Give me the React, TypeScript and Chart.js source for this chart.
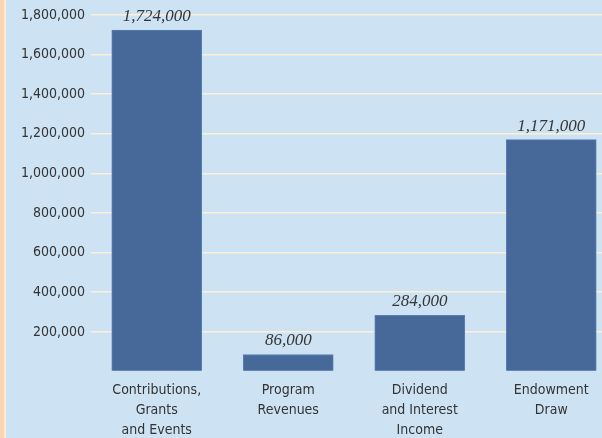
import React, { useEffect, useRef } from "react";
import { Chart, registerables } from "chart.js";

Chart.register(...registerables);

const categories: string[][] = [
  ["Contributions,", "Grants", "and Events"],
  ["Program", "Revenues"],
  ["Dividend", "and Interest", "Income"],
  ["Endowment", "Draw"],
];
const values: number[] = [1724000, 86000, 284000, 1171000];
const yMax = 1800000;
const yStep = 200000;

const fmt = (v: number) => v.toLocaleString("en-US");

const valueLabels = {
  id: "valueLabels",
  afterDatasetsDraw(chart: any) {
    const ctx = chart.ctx;
    const meta = chart.getDatasetMeta(0);
    ctx.save();
    ctx.font = "italic 17px 'Liberation Serif', serif";
    ctx.fillStyle = "#363636";
    ctx.textAlign = "center";
    ctx.textBaseline = "bottom";
    meta.data.forEach((bar: any, i: number) => {
      ctx.fillText(fmt(values[i]), bar.x, bar.y - 5);
    });
    ctx.restore();
  },
};

export default function App() {
  const ref = useRef<HTMLCanvasElement | null>(null);
  useEffect(() => {
    if (!ref.current) return;
    const chart = new Chart(ref.current, {
      type: "bar",
      data: {
        labels: categories,
        datasets: [
          {
            data: values,
            backgroundColor: "#46699a",
            borderColor: "#5b7eb0",
            borderWidth: 1,
            barThickness: 90,
          },
        ],
      },
      options: {
        animation: false,
        responsive: false,
        maintainAspectRatio: false,
        layout: { padding: { top: 15, right: 1, left: 0, bottom: 0 } },
        plugins: {
          legend: { display: false },
          tooltip: { enabled: false },
        },
        scales: {
          x: {
            grid: { display: false },
            border: { display: false },
            ticks: {
              color: "#333",
              font: { family: "'DejaVu Sans Condensed', 'Liberation Sans Narrow', sans-serif", size: 14, lineHeight: 1.42 },
              padding: 1,
              maxRotation: 0,
              autoSkip: false,
            },
            afterFit: (scale: any) => {
              scale.height = 66.5;
            },
          },
          y: {
            min: 0,
            max: yMax,
            border: { display: false },
            grid: {
              drawTicks: false,
              lineWidth: 1.6,
              color: (c: any) => (c.tick && c.tick.value === 0 ? "rgba(0,0,0,0)" : "#fbf0d8"),
            },
            ticks: {
              stepSize: yStep,
              padding: 6,
              color: "#333",
              font: { family: "'DejaVu Sans Condensed', 'Liberation Sans Narrow', sans-serif", size: 14 },
              callback: (v: any) => (Number(v) === 0 ? "" : fmt(Number(v))),
            },
            afterFit: (scale: any) => {
              scale.width = 91;
            },
          },
        },
      },
      plugins: [valueLabels],
    });
    return () => chart.destroy();
  }, []);

  return (
    <div
      style={{
        position: "absolute",
        left: 0,
        top: 0,
        width: 602,
        height: 438,
        overflow: "hidden",
        background: "#cde3f4",
      }}
    >
      <canvas
        ref={ref}
        width={618}
        height={438}
        style={{ position: "absolute", left: 0, top: 0, width: 618, height: 438 }}
      />
      <div style={{ position: "absolute", left: 0, top: 0, width: 4, height: 438, background: "#fbd5b3" }} />
      <div style={{ position: "absolute", left: 4, top: 0, width: 2, height: 438, background: "#fde9d6" }} />
    </div>
  );
}
